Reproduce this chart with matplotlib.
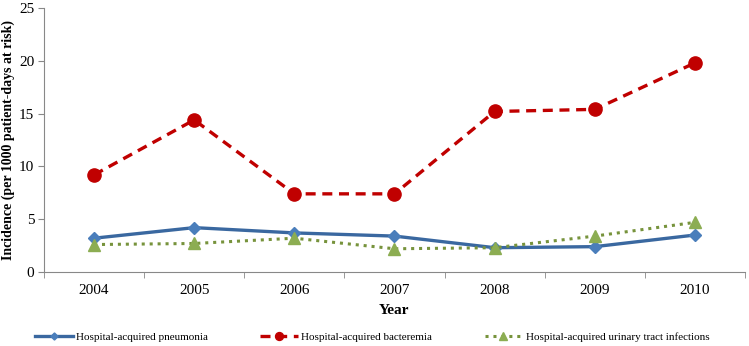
import numpy as np
import matplotlib.pyplot as plt

years = ['2004', '2005', '2006', '2007', '2008', '2009', '2010']
pneumonia = [3.2, 4.2, 3.7, 3.4, 2.3, 2.4, 3.5]
bacteremia = [9.2, 14.4, 7.4, 7.4, 15.2, 15.4, 19.8]
uti = [2.6, 2.7, 3.2, 2.2, 2.3, 3.4, 4.7]

plt.rcParams['font.family'] = ['Liberation Serif', 'DejaVu Serif']

fig = plt.figure(figsize=(7.49, 3.46), dpi=100)
ax = fig.add_axes([0.0587, 0.2139, 0.936, 0.763])

x = np.arange(len(years))
ax.plot(x, pneumonia, color='#3A68A0', lw=2.4, marker='D', ms=6,
        markerfacecolor='#4A7EBB', markeredgecolor='#4A7EBB',
        label='Hospital-acquired pneumonia')
ax.plot(x, bacteremia, color='#C00000', lw=2.4, ls=(0, (3, 2)), marker='o', ms=9.5,
        markerfacecolor='#C00000', markeredgecolor='#C00000',
        label='Hospital-acquired bacteremia')
ax.plot(x, uti, color='#77933C', lw=2.2, ls=(0, (1, 1.6)), marker='^', ms=9,
        markerfacecolor='#8CAD52', markeredgecolor='#8CAD52',
        label='Hospital-acquired urinary tract infections')

ax.set_xlim(-0.5, len(years) - 0.5)
ax.set_ylim(0, 25)
ax.set_yticks([0, 5, 10, 15, 20, 25])
ax.set_xticks(x)
ax.set_xticklabels(years)
ax.set_xticks(np.arange(-0.5, len(years)), minor=True)
ax.tick_params(axis='x', which='major', length=0, labelsize=11, pad=9)
ax.tick_params(axis='x', which='minor', length=4, color='#888888')
ax.tick_params(axis='y', length=4, color='#888888', labelsize=11, pad=3)

for s in ['top', 'right']:
    ax.spines[s].set_visible(False)
for s in ['left', 'bottom']:
    ax.spines[s].set_color('#888888')

ax.set_xlabel('Year', fontsize=11, fontweight='bold', labelpad=5)
ax.set_ylabel('Incidence (per 1000 patient-days at risk)', fontsize=10, fontweight='bold', labelpad=3)

fig.legend(loc='center', bbox_to_anchor=(0.497, 0.026), ncol=3, frameon=False,
           fontsize=8, handlelength=3.4, columnspacing=4.7, handletextpad=0.3,
           markerscale=0.6)

fig.savefig('out.png', dpi=100)
